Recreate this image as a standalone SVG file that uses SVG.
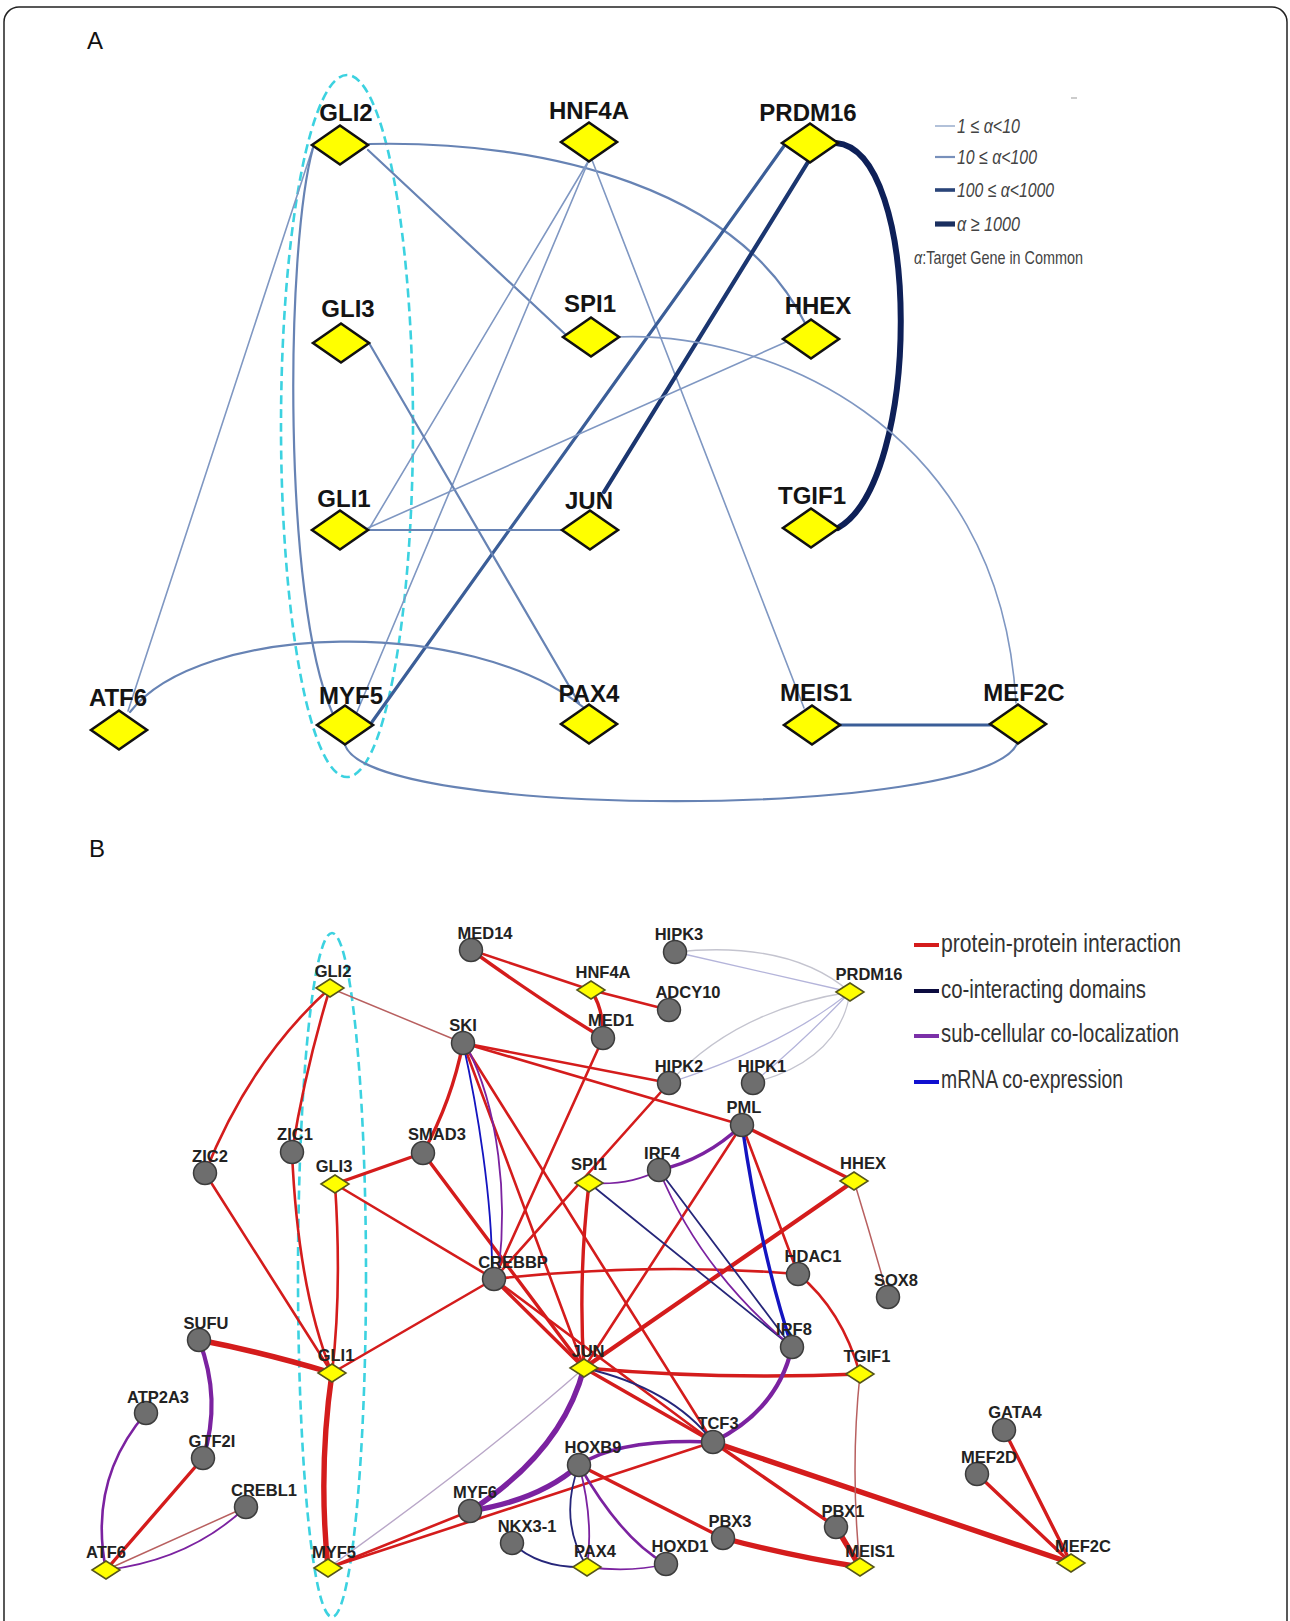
<svg xmlns="http://www.w3.org/2000/svg" width="1290" height="1621" viewBox="0 0 1290 1621">
<style>
.frame{fill:#fff;stroke:#222;stroke-width:1.5}
.pl{font-family:"Liberation Sans",Arial,sans-serif;font-size:24px;fill:#111}
.la{font-family:"Liberation Sans",Arial,sans-serif;font-weight:bold;font-size:24px;fill:#141414;text-anchor:middle}
.lb{font-family:"Liberation Sans",Arial,sans-serif;font-weight:bold;font-size:16.5px;fill:#222;text-anchor:middle}
.da{fill:#ffff00;stroke:#111;stroke-width:2.6;stroke-linejoin:miter}
.db{fill:#ffff00;stroke:#55551a;stroke-width:1.5}
.cb{fill:#6e6e6e;stroke:#3c3c3c;stroke-width:1.5}
.e{fill:none;stroke-linecap:round}
.a1{stroke:#7f97c2;stroke-width:1.6}
.a2{stroke:#6783b4;stroke-width:2.2}
.a3{stroke:#3b5e98;stroke-width:3.2}
.a4{stroke:#1b3670;stroke-width:4.2}
.a5{stroke:#0e2058;stroke-width:6}
.ell{fill:none;stroke:#3cd2e0;stroke-width:2.6;stroke-dasharray:9 5}
.r{stroke:#d41c1c}
.rt{stroke:#b86060;stroke-width:1.5}
.nv{stroke:#26267a}
.pu{stroke:#7b22a0}
.bl{stroke:#1414c0}
.fg{stroke:#c4c4cf;stroke-width:1.3}
.fl{stroke:#b4b4da;stroke-width:1.3}
.w1{stroke-width:1.8}
.w2{stroke-width:2.6}
.w3{stroke-width:3.4}
.w4{stroke-width:4.2}
.w5{stroke-width:5.4}
.lgA{font-family:"Liberation Sans",Arial,sans-serif;font-style:italic;font-size:21px;fill:#444}
.lgA2{font-family:"Liberation Sans",Arial,sans-serif;font-size:19px;fill:#444}
.lgB{font-family:"Liberation Sans",Arial,sans-serif;font-size:25px;fill:#333}
</style>
<rect class="frame" x="4" y="7" width="1283" height="1640" rx="15"/>
<text class="pl" x="87" y="49">A</text>
<text class="pl" x="89" y="857">B</text>

<!-- Panel A connectors -->
<g id="edges-A">
<ellipse class="ell" cx="347" cy="426" rx="66" ry="351"/>
<line class="e a1" x1="313" y1="147" x2="128" y2="711"/>
<path class="e a2" d="M313,148 C285,250 283,600 332,712"/>
<path class="e a2" d="M369,144 C550,140 740,190 806,325"/>
<line class="e a2" x1="368" y1="150" x2="566" y2="335"/>
<line class="e a1" x1="589" y1="160" x2="369" y2="529"/>
<line class="e a1" x1="589" y1="160" x2="357" y2="712"/>
<line class="e a1" x1="592" y1="160" x2="804" y2="708"/>
<path class="e a5" d="M836,143 C922,150 922,480 838,528"/>
<line class="e a4" x1="808" y1="162" x2="604" y2="492"/>
<line class="e a3" x1="784" y1="146" x2="372" y2="722"/>
<path class="e a1" d="M616,337 C760,330 1000,420 1016,703"/>
<line class="e a2" x1="369" y1="343" x2="579" y2="703"/>
<line class="e a2" x1="368" y1="530" x2="562" y2="530"/>
<line class="e a1" x1="368" y1="528" x2="786" y2="342"/>
<path class="e a2" d="M130,712 C200,622 470,616 583,707"/>
<path class="e a2" d="M345,745 C370,820 980,820 1017,744"/>
<line class="e a3" x1="840" y1="725" x2="990" y2="725"/>
</g>

<!-- Panel A nodes -->
<g id="A-GLI2"><polygon class="da" points="312,145 340,125.5 368,145 340,164.5"/><text class="la" x="346" y="121">GLI2</text></g>
<g id="A-HNF4A"><polygon class="da" points="561,142 589,122.5 617,142 589,161.5"/><text class="la" x="589" y="119">HNF4A</text></g>
<g id="A-PRDM16"><polygon class="da" points="782,143 810,123.5 838,143 810,162.5"/><text class="la" x="808" y="121">PRDM16</text></g>
<g id="A-GLI3"><polygon class="da" points="313,343 341,323.5 369,343 341,362.5"/><text class="la" x="348" y="317">GLI3</text></g>
<g id="A-SPI1"><polygon class="da" points="563,337 591,317.5 619,337 591,356.5"/><text class="la" x="590" y="312">SPI1</text></g>
<g id="A-HHEX"><polygon class="da" points="783,339 811,319.5 839,339 811,358.5"/><text class="la" x="818" y="314">HHEX</text></g>
<g id="A-GLI1"><polygon class="da" points="312,530 340,510.5 368,530 340,549.5"/><text class="la" x="344" y="507">GLI1</text></g>
<g id="A-JUN"><polygon class="da" points="562,530 590,510.5 618,530 590,549.5"/><text class="la" x="589" y="509">JUN</text></g>
<g id="A-TGIF1"><polygon class="da" points="783,528 811,508.5 839,528 811,547.5"/><text class="la" x="812" y="504">TGIF1</text></g>
<g id="A-ATF6"><polygon class="da" points="91,730 119,710.5 147,730 119,749.5"/><text class="la" x="118" y="706">ATF6</text></g>
<g id="A-MYF5"><polygon class="da" points="317,725 345,705.5 373,725 345,744.5"/><text class="la" x="351" y="704">MYF5</text></g>
<g id="A-PAX4"><polygon class="da" points="561,724 589,704.5 617,724 589,743.5"/><text class="la" x="589" y="702">PAX4</text></g>
<g id="A-MEIS1"><polygon class="da" points="784,725 812,705.5 840,725 812,744.5"/><text class="la" x="816" y="701">MEIS1</text></g>
<g id="A-MEF2C"><polygon class="da" points="990,724 1018,704.5 1046,724 1018,743.5"/><text class="la" x="1024" y="701">MEF2C</text></g>

<!-- Legend A -->
<g id="legend-A">
<line x1="1071" y1="98" x2="1077" y2="98" stroke="#bbb" stroke-width="1.5"/>
<line x1="935" y1="126" x2="955" y2="126" stroke="#9fb2d0" stroke-width="1.6"/>
<text class="lgA" x="957" y="133" textLength="63" lengthAdjust="spacingAndGlyphs">1 ≤ α&lt;10</text>
<line x1="935" y1="157" x2="955" y2="157" stroke="#7890bb" stroke-width="2.2"/>
<text class="lgA" x="957" y="164" textLength="80" lengthAdjust="spacingAndGlyphs">10 ≤ α&lt;100</text>
<line x1="935" y1="190" x2="955" y2="190" stroke="#2a4478" stroke-width="3.6"/>
<text class="lgA" x="957" y="197" textLength="97" lengthAdjust="spacingAndGlyphs">100 ≤ α&lt;1000</text>
<line x1="935" y1="224" x2="955" y2="224" stroke="#1a2f60" stroke-width="5.2"/>
<text class="lgA" x="957" y="231" textLength="63" lengthAdjust="spacingAndGlyphs">α ≥ 1000</text>
<text class="lgA2" x="914" y="264" textLength="169" lengthAdjust="spacingAndGlyphs"><tspan font-style="italic">α</tspan>:Target Gene in Common</text>
</g>

<!-- Panel B connectors -->
<g id="edges-B">
<ellipse class="ell" cx="332" cy="1275" rx="34" ry="342"/>
<!-- faint PRDM16 links -->
<path class="e fg" d="M675,952 Q790,940 850,992"/>
<path class="e fl" d="M675,952 L850,992"/>
<path class="e fg" d="M669,1083 Q735,1010 850,992"/>
<path class="e fl" d="M669,1083 Q785,1045 850,992"/>
<path class="e fl" d="M753,1083 Q805,1040 850,992"/>
<path class="e fg" d="M753,1083 Q840,1060 850,992"/>
<!-- red PPI -->
<path class="e r w2" d="M330,988 Q250,1060 205,1173"/>
<path class="e r w2" d="M330,988 Q305,1070 292,1152"/>
<line class="e rt" x1="330" y1="988" x2="463" y2="1043"/>
<line class="e r w2" x1="205" y1="1173" x2="332" y2="1373"/>
<path class="e r w2" d="M292,1152 Q298,1290 332,1373"/>
<path class="e r w2" d="M335,1184 Q342,1290 332,1373"/>
<line class="e r w3" x1="335" y1="1184" x2="423" y2="1153"/>
<line class="e r w2" x1="335" y1="1184" x2="494" y2="1279"/>
<path class="e r w3" d="M423,1153 Q452,1100 463,1043"/>
<line class="e r w3" x1="423" y1="1153" x2="584" y2="1368"/>
<line class="e r w2" x1="463" y1="1043" x2="584" y2="1368"/>
<line class="e r w2" x1="463" y1="1043" x2="713" y2="1442"/>
<line class="e r w2" x1="463" y1="1043" x2="669" y2="1083"/>
<line class="e r w2" x1="463" y1="1043" x2="742" y2="1125"/>
<line class="e r w2" x1="471" y1="950" x2="591" y2="990"/>
<path class="e r w3" d="M471,950 Q540,1000 603,1038"/>
<path class="e r w3" d="M591,990 Q604,1010 603,1038"/>
<line class="e r w2" x1="591" y1="990" x2="669" y2="1010"/>
<line class="e r w2" x1="603" y1="1038" x2="494" y2="1279"/>
<line class="e r w2" x1="669" y1="1083" x2="494" y2="1279"/>
<line class="e r w3" x1="742" y1="1125" x2="854" y2="1181"/>
<line class="e r w2" x1="742" y1="1125" x2="798" y2="1274"/>
<line class="e r w2" x1="742" y1="1125" x2="584" y2="1368"/>
<line class="e r w4" x1="854" y1="1181" x2="584" y2="1368"/>
<path class="e rt" d="M854,1181 Q872,1240 888,1297"/>
<path class="e r w3" d="M589,1183 Q578,1280 584,1368"/>
<path class="e r w2" d="M494,1279 Q650,1262 798,1274"/>
<path class="e r w2" d="M798,1274 Q842,1310 860,1374"/>
<path class="e r w3" d="M584,1368 Q720,1380 860,1374"/>
<line class="e r w3" x1="584" y1="1368" x2="713" y2="1442"/>
<line class="e r w3" x1="494" y1="1279" x2="584" y2="1368"/>
<line class="e r w2" x1="494" y1="1279" x2="713" y2="1442"/>
<line class="e r w2" x1="713" y1="1442" x2="328" y2="1568"/>
<line class="e r w5" x1="713" y1="1442" x2="1071" y2="1563"/>
<line class="e r w3" x1="713" y1="1442" x2="836" y2="1527"/>
<line class="e r w3" x1="579" y1="1465" x2="723" y2="1538"/>
<line class="e r w2" x1="328" y1="1568" x2="470" y2="1511"/>
<path class="e r w5" d="M328,1568 Q318,1470 332,1373"/>
<path class="e r w5" d="M332,1373 Q262,1352 199,1340"/>
<line class="e r w2" x1="332" y1="1373" x2="494" y2="1279"/>
<line class="e r w3" x1="203" y1="1458" x2="106" y2="1570"/>
<line class="e rt" x1="246" y1="1507" x2="106" y2="1570"/>
<path class="e r w5" d="M723,1538 Q790,1556 860,1567"/>
<line class="e r w5" x1="836" y1="1527" x2="860" y2="1567"/>
<path class="e rt" d="M860,1374 Q850,1470 860,1567"/>
<line class="e r w3" x1="1004" y1="1430" x2="1071" y2="1563"/>
<line class="e r w3" x1="977" y1="1474" x2="1071" y2="1563"/>
<!-- co-expression / domains / co-localization -->
<path class="e bl w1" d="M463,1043 C478,1110 492,1200 492,1268"/>
<path class="e pu w1" d="M466,1045 C500,1110 507,1200 499,1268"/>
<path class="e pu w3" d="M742,1125 Q705,1160 659,1170"/>
<path class="e bl w3" d="M742,1125 Q760,1250 792,1347"/>
<path class="e pu w1" d="M589,1183 Q630,1186 659,1170"/>
<line class="e nv w1" x1="589" y1="1183" x2="792" y2="1347"/>
<line class="e nv w1" x1="659" y1="1170" x2="792" y2="1347"/>
<path class="e pu w1" d="M659,1170 Q700,1270 790,1345"/>
<path class="e pu w4" d="M792,1347 Q778,1410 713,1442"/>
<path class="e nv w1" d="M584,1368 Q672,1388 713,1442"/>
<path class="e pu w5" d="M584,1368 Q562,1452 470,1511"/>
<path class="e" stroke="#b9a7c8" stroke-width="1.4" d="M584,1368 Q480,1460 328,1568"/>
<path class="e pu w3" d="M713,1442 Q620,1438 579,1465"/>
<path class="e pu w5" d="M579,1465 Q540,1500 470,1511"/>
<path class="e nv w1" d="M579,1465 Q558,1520 587,1567"/>
<path class="e pu w1" d="M579,1465 Q594,1520 587,1567"/>
<path class="e pu w2" d="M579,1465 Q622,1540 666,1564"/>
<path class="e pu w4" d="M199,1340 Q222,1400 203,1458"/>
<path class="e pu w2" d="M146,1413 Q88,1480 106,1570"/>
<path class="e pu w1" d="M246,1507 Q190,1560 106,1570"/>
<path class="e nv w1" d="M512,1543 Q540,1569 587,1567"/>
<path class="e pu w1" d="M587,1567 Q630,1573 666,1564"/>
</g>

<!-- Panel B nodes -->
<g id="B-GLI2"><polygon class="db" points="316,988 330,979 344,988 330,997"/><text class="lb" x="333" y="977">GLI2</text></g>
<g id="B-HNF4A"><polygon class="db" points="577,990 591,981 605,990 591,999"/><text class="lb" x="603" y="978">HNF4A</text></g>
<g id="B-PRDM16"><polygon class="db" points="836,992 850,983 864,992 850,1001"/><text class="lb" x="869" y="980">PRDM16</text></g>
<g id="B-MED14"><circle class="cb" cx="471" cy="950" r="11.5"/><text class="lb" x="485" y="939">MED14</text></g>
<g id="B-HIPK3"><circle class="cb" cx="675" cy="952" r="11.5"/><text class="lb" x="679" y="940">HIPK3</text></g>
<g id="B-ADCY10"><circle class="cb" cx="669" cy="1010" r="11.5"/><text class="lb" x="688" y="998">ADCY10</text></g>
<g id="B-SKI"><circle class="cb" cx="463" cy="1043" r="11.5"/><text class="lb" x="463" y="1031">SKI</text></g>
<g id="B-MED1"><circle class="cb" cx="603" cy="1038" r="11.5"/><text class="lb" x="611" y="1026">MED1</text></g>
<g id="B-HIPK2"><circle class="cb" cx="669" cy="1083" r="11.5"/><text class="lb" x="679" y="1072">HIPK2</text></g>
<g id="B-HIPK1"><circle class="cb" cx="753" cy="1083" r="11.5"/><text class="lb" x="762" y="1072">HIPK1</text></g>
<g id="B-PML"><circle class="cb" cx="742" cy="1125" r="11.5"/><text class="lb" x="744" y="1113">PML</text></g>
<g id="B-ZIC2"><circle class="cb" cx="205" cy="1173" r="11.5"/><text class="lb" x="210" y="1162">ZIC2</text></g>
<g id="B-ZIC1"><circle class="cb" cx="292" cy="1152" r="11.5"/><text class="lb" x="295" y="1140">ZIC1</text></g>
<g id="B-SMAD3"><circle class="cb" cx="423" cy="1153" r="11.5"/><text class="lb" x="437" y="1140">SMAD3</text></g>
<g id="B-GLI3"><polygon class="db" points="321,1184 335,1175 349,1184 335,1193"/><text class="lb" x="334" y="1172">GLI3</text></g>
<g id="B-SPI1"><polygon class="db" points="575,1183 589,1174 603,1183 589,1192"/><text class="lb" x="589" y="1170">SPI1</text></g>
<g id="B-IRF4"><circle class="cb" cx="659" cy="1170" r="11.5"/><text class="lb" x="662" y="1159">IRF4</text></g>
<g id="B-HHEX"><polygon class="db" points="840,1181 854,1172 868,1181 854,1190"/><text class="lb" x="863" y="1169">HHEX</text></g>
<g id="B-CREBBP"><circle class="cb" cx="494" cy="1279" r="11.5"/><text class="lb" x="513" y="1268">CREBBP</text></g>
<g id="B-HDAC1"><circle class="cb" cx="798" cy="1274" r="11.5"/><text class="lb" x="813" y="1262">HDAC1</text></g>
<g id="B-SOX8"><circle class="cb" cx="888" cy="1297" r="11.5"/><text class="lb" x="896" y="1286">SOX8</text></g>
<g id="B-IRF8"><circle class="cb" cx="792" cy="1347" r="11.5"/><text class="lb" x="794" y="1335">IRF8</text></g>
<g id="B-SUFU"><circle class="cb" cx="199" cy="1340" r="11.5"/><text class="lb" x="206" y="1329">SUFU</text></g>
<g id="B-GLI1"><polygon class="db" points="318,1373 332,1364 346,1373 332,1382"/><text class="lb" x="336" y="1361">GLI1</text></g>
<g id="B-JUN"><polygon class="db" points="570,1368 584,1359 598,1368 584,1377"/><text class="lb" x="588" y="1357">JUN</text></g>
<g id="B-TGIF1"><polygon class="db" points="846,1374 860,1365 874,1374 860,1383"/><text class="lb" x="867" y="1362">TGIF1</text></g>
<g id="B-ATP2A3"><circle class="cb" cx="146" cy="1413" r="11.5"/><text class="lb" x="158" y="1403">ATP2A3</text></g>
<g id="B-GTF2I"><circle class="cb" cx="203" cy="1458" r="11.5"/><text class="lb" x="212" y="1447">GTF2I</text></g>
<g id="B-CREBL1"><circle class="cb" cx="246" cy="1507" r="11.5"/><text class="lb" x="264" y="1496">CREBL1</text></g>
<g id="B-TCF3"><circle class="cb" cx="713" cy="1442" r="11.5"/><text class="lb" x="718" y="1429">TCF3</text></g>
<g id="B-GATA4"><circle class="cb" cx="1004" cy="1430" r="11.5"/><text class="lb" x="1015" y="1418">GATA4</text></g>
<g id="B-MEF2D"><circle class="cb" cx="977" cy="1474" r="11.5"/><text class="lb" x="989" y="1463">MEF2D</text></g>
<g id="B-HOXB9"><circle class="cb" cx="579" cy="1465" r="11.5"/><text class="lb" x="593" y="1453">HOXB9</text></g>
<g id="B-MYF6"><circle class="cb" cx="470" cy="1511" r="11.5"/><text class="lb" x="475" y="1498">MYF6</text></g>
<g id="B-NKX3-1"><circle class="cb" cx="512" cy="1543" r="11.5"/><text class="lb" x="527" y="1532">NKX3-1</text></g>
<g id="B-HOXD1"><circle class="cb" cx="666" cy="1564" r="11.5"/><text class="lb" x="680" y="1552">HOXD1</text></g>
<g id="B-PBX3"><circle class="cb" cx="723" cy="1538" r="11.5"/><text class="lb" x="730" y="1527">PBX3</text></g>
<g id="B-PBX1"><circle class="cb" cx="836" cy="1527" r="11.5"/><text class="lb" x="843" y="1517">PBX1</text></g>
<g id="B-ATF6"><polygon class="db" points="92,1570 106,1561 120,1570 106,1579"/><text class="lb" x="106" y="1558">ATF6</text></g>
<g id="B-MYF5"><polygon class="db" points="314,1568 328,1559 342,1568 328,1577"/><text class="lb" x="334" y="1558">MYF5</text></g>
<g id="B-PAX4"><polygon class="db" points="573,1567 587,1558 601,1567 587,1576"/><text class="lb" x="595" y="1557">PAX4</text></g>
<g id="B-MEIS1"><polygon class="db" points="846,1567 860,1558 874,1567 860,1576"/><text class="lb" x="870" y="1557">MEIS1</text></g>
<g id="B-MEF2C"><polygon class="db" points="1057,1563 1071,1554 1085,1563 1071,1572"/><text class="lb" x="1083" y="1552">MEF2C</text></g>

<!-- Legend B -->
<g id="legend-B">
<line x1="914" y1="945" x2="939" y2="945" stroke="#d41c1c" stroke-width="4"/>
<text class="lgB" x="941" y="952" textLength="240" lengthAdjust="spacingAndGlyphs">protein-protein interaction</text>
<line x1="914" y1="991" x2="939" y2="991" stroke="#0c0c40" stroke-width="4"/>
<text class="lgB" x="941" y="998" textLength="205" lengthAdjust="spacingAndGlyphs">co-interacting domains</text>
<line x1="914" y1="1036" x2="939" y2="1036" stroke="#7b30a8" stroke-width="4"/>
<text class="lgB" x="941" y="1042" textLength="238" lengthAdjust="spacingAndGlyphs">sub-cellular co-localization</text>
<line x1="914" y1="1082" x2="939" y2="1082" stroke="#1010d0" stroke-width="4"/>
<text class="lgB" x="941" y="1088" textLength="182" lengthAdjust="spacingAndGlyphs">mRNA co-expression</text>
</g>
</svg>
